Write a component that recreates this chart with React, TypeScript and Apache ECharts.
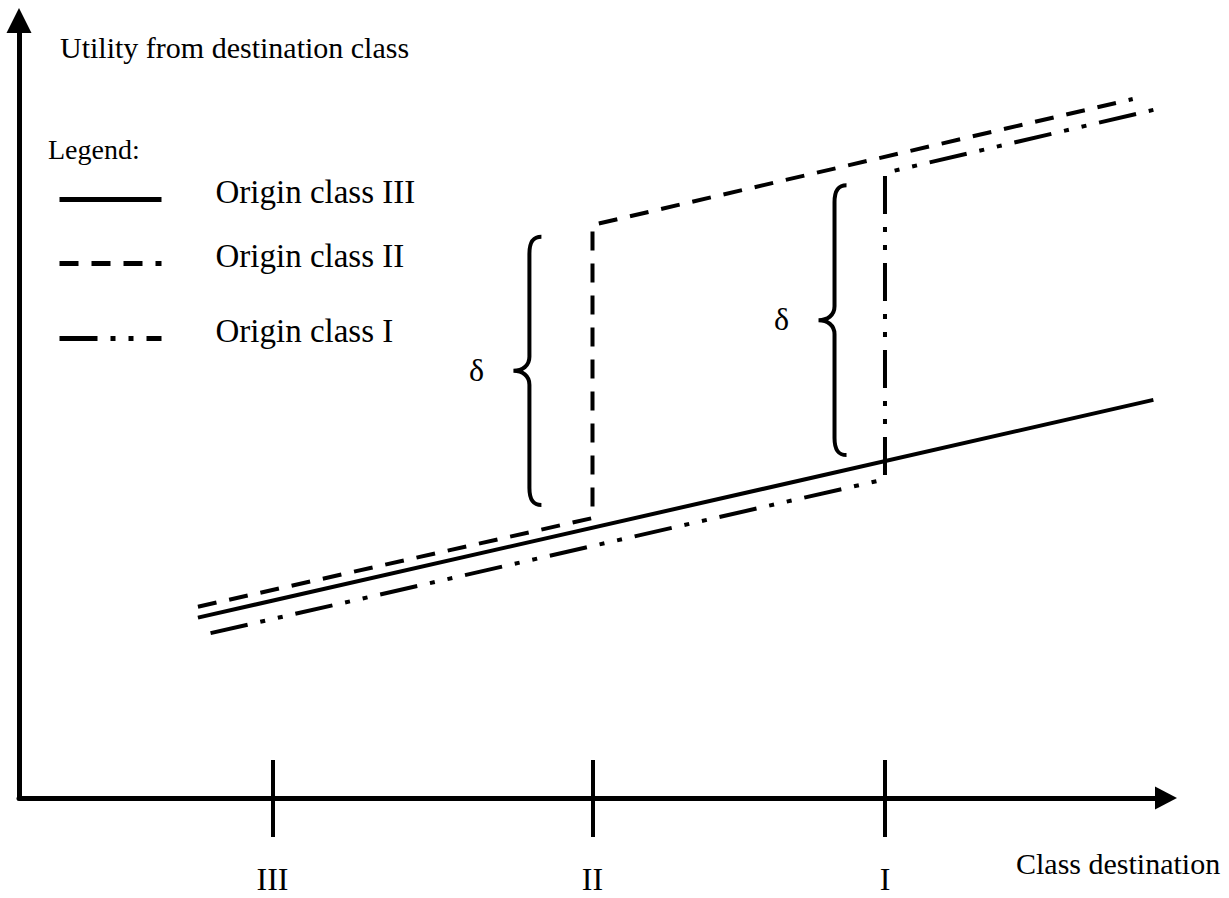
import React, { useEffect, useRef } from 'react';
import * as echarts from 'echarts';

// ---- data (value units on 0..100 axes) ----
const classNames = ['III', 'II', 'I'];
const classPositions = [22.1, 50.0, 75.5];
const seriesNames = ['Origin class III', 'Origin class II', 'Origin class I'];
const originIIIX = [15.6, 98.9];
const originIIIY = [23.2, 51.2];
const originIIX = [15.6, 50.0, 50.0, 97.1];
const originIIY = [24.6, 36.0, 73.7, 89.9];
const originIX = [16.7, 75.5, 75.5, 98.9];
const originIY = [21.2, 41.0, 80.4, 88.5];
const braceX = [44.5, 71.1];
const braceLow = [37.7, 44.1];
const braceHigh = [72.2, 78.8];
const braceLabels = ['δ', 'δ'];
const yAxisTitle = 'Utility from destination class';
const xAxisTitle = 'Class destination';
const legendTitle = 'Legend:';

const FONT = "'Liberation Serif', 'Times New Roman', Times, serif";
const zip = (xs: number[], ys: number[]) => xs.map((x, i) => [x, ys[i]]);

const labelFor = (v: number) => {
  const i = classPositions.findIndex((p) => Math.abs(p - v) < 1e-6);
  return i >= 0 ? classNames[i] : '';
};

const legendTops = [175, 239, 314];

const option: any = {
  animation: false,
  backgroundColor: '#fff',
  grid: { left: 19, right: 63, top: 20.5, bottom: 100, containLabel: false },
  xAxis: [
    {
      type: 'value',
      min: 0,
      max: 100,
      position: 'bottom',
      axisLine: {
        show: true,
        onZero: false,
        symbol: ['none', 'triangle'],
        symbolSize: [23, 22],
        lineStyle: { color: '#000', width: 5 },
      },
      axisTick: { show: true, customValues: classPositions, length: 39, lineStyle: { color: '#000', width: 4 } },
      axisLabel: {
        show: true,
        customValues: classPositions,
        formatter: labelFor,
        margin: 65,
        fontSize: 32,
        lineHeight: 32,
        fontFamily: FONT,
        color: '#000',
      },
      splitLine: { show: false },
    },
    {
      type: 'value',
      min: 0,
      max: 100,
      position: 'bottom',
      axisLine: { show: false, onZero: false },
      axisTick: {
        show: true,
        inside: true,
        customValues: classPositions,
        length: 38,
        lineStyle: { color: '#000', width: 4 },
      },
      axisLabel: { show: false },
      splitLine: { show: false },
    },
  ],
  yAxis: {
    type: 'value',
    min: 0,
    max: 100,
    axisLine: {
      show: true,
      onZero: false,
      symbol: ['none', 'triangle'],
      symbolSize: [25, 25],
      lineStyle: { color: '#000', width: 5 },
    },
    axisTick: { show: false },
    axisLabel: { show: false },
    splitLine: { show: false },
  },
  legend: seriesNames.map((name, i) => ({
    data: [name],
    left: 57,
    top: legendTops[i],
    orient: 'vertical',
    padding: 0,
    itemWidth: 102,
    itemHeight: 14,
    selectedMode: false,
    formatter: (n: string) => n + '\n ',
    itemStyle: { color: 'rgba(0,0,0,0)', borderColor: 'rgba(0,0,0,0)', borderWidth: 0, opacity: 0 },
    lineStyle: { width: 5 },
    textStyle: {
      fontSize: 33,
      lineHeight: 16,
      fontFamily: FONT,
      color: '#000',
      padding: [0, 0, 0, 49],
    },
  })),
  graphic: [
    {
      type: 'text',
      x: 60,
      y: 47,
      silent: true,
      style: { text: yAxisTitle, fontSize: 30, fontFamily: FONT, fill: '#000', align: 'left', verticalAlign: 'middle' },
    },
    {
      type: 'text',
      x: 48,
      y: 149.5,
      silent: true,
      style: { text: legendTitle, fontSize: 28, fontFamily: FONT, fill: '#000', align: 'left', verticalAlign: 'middle' },
    },
    {
      type: 'text',
      x: 1016,
      y: 863,
      silent: true,
      style: { text: xAxisTitle, fontSize: 30, fontFamily: FONT, fill: '#000', align: 'left', verticalAlign: 'middle' },
    },
  ],
  series: [
    {
      type: 'line',
      name: seriesNames[0],
      data: zip(originIIIX, originIIIY),
      symbol: 'none',
      silent: true,
      clip: false,
      itemStyle: { color: '#000' },
      lineStyle: { color: '#000', width: 4, type: 'solid', cap: 'butt' },
    },
    {
      type: 'line',
      name: seriesNames[1],
      data: zip(originIIX, originIIY),
      symbol: 'none',
      silent: true,
      clip: false,
      itemStyle: { color: '#000' },
      lineStyle: { color: '#000', width: 4, type: [19, 13], cap: 'butt', join: 'miter' },
    },
    {
      type: 'line',
      name: seriesNames[2],
      data: zip(originIX, originIY),
      symbol: 'none',
      silent: true,
      clip: false,
      itemStyle: { color: '#000' },
      lineStyle: { color: '#000', width: 4, type: [38, 13, 5, 13, 5, 13], cap: 'butt', join: 'miter' },
    },
    {
      type: 'custom',
      name: 'gap',
      silent: true,
      clip: false,
      data: braceX.map((x, i) => [x, braceLow[i], braceHigh[i]]),
      encode: { x: 0, y: [1, 2] },
      renderItem: (params: any, api: any) => {
        const top = api.coord([api.value(0), api.value(2)]);
        const bot = api.coord([api.value(0), api.value(1)]);
        const sx = top[0];
        const yt = top[1];
        const yb = bot[1];
        const ym = (yt + yb) / 2;
        const d =
          `M${sx + 12},${yt} C${sx + 4},${yt} ${sx},${yt + 5} ${sx},${yt + 17} ` +
          `L${sx},${ym - 14} C${sx},${ym - 5} ${sx - 7},${ym} ${sx - 16},${ym} ` +
          `C${sx - 7},${ym} ${sx},${ym + 5} ${sx},${ym + 14} ` +
          `L${sx},${yb - 17} C${sx},${yb - 5} ${sx + 4},${yb} ${sx + 12},${yb}`;
        return {
          type: 'group',
          children: [
            {
              type: 'path',
              shape: { pathData: d },
              style: { stroke: '#000', lineWidth: 4, fill: 'none' },
            },
            {
              type: 'text',
              x: sx - 53,
              y: ym - 1,
              style: {
                text: braceLabels[params.dataIndex],
                fontSize: 32,
                fontFamily: FONT,
                fill: '#000',
                align: 'center',
                verticalAlign: 'middle',
              },
            },
          ],
        };
      },
    },
  ],
};

export default function App() {
  const ref = useRef<HTMLDivElement>(null);
  useEffect(() => {
    const chart = echarts.init(ref.current as HTMLDivElement, null, { renderer: 'svg' });
    chart.setOption(option);
    return () => chart.dispose();
  }, []);
  return (
    <div
      ref={ref}
      style={{ position: 'fixed', left: 0, top: 0, width: 1229, height: 898, background: '#fff' }}
    />
  );
}
